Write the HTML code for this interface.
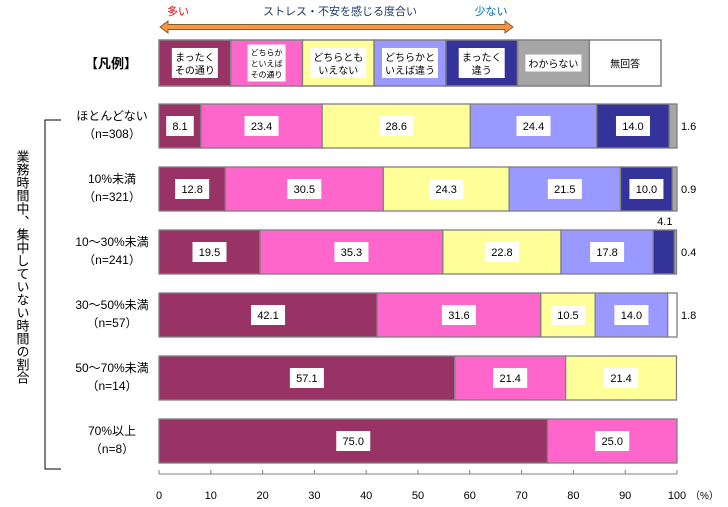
<!DOCTYPE html>
<html><head><meta charset="utf-8">
<style>
body{margin:0;background:#fff;}
svg{display:block;font-family:"Liberation Sans","Noto Sans CJK JP",sans-serif;}
</style></head>
<body>
<svg id="chart" width="728" height="507" viewBox="0 0 728 507" xmlns="http://www.w3.org/2000/svg">
  <g>
    <text x="178" y="15" font-size="11" fill="#ff0000" text-anchor="middle">多い</text>
    <text x="340" y="15" font-size="11" fill="#1f3864" text-anchor="middle">ストレス・不安を感じる度合い</text>
    <text x="491" y="15" font-size="11" fill="#0070c0" text-anchor="middle">少ない</text>
    <path d="M160,27 L168,21 L168,24.5 L505,24.5 L505,21 L513,27 L505,33 L505,29.5 L168,29.5 L168,33 Z" fill="#f79646" stroke="#8a5a2a" stroke-width="1"/>
    <text x="111" y="68" font-size="13" font-weight="bold" text-anchor="middle">【凡例】</text>
  </g>
  <g id="legend"></g>
  <g>
    <path d="M61,120 L45,120 L45,469 L61,469" fill="none" stroke="#000" stroke-width="1"/>
    <text font-size="13" writing-mode="tb" x="22" y="150" style="writing-mode:vertical-rl;text-orientation:upright;letter-spacing:0px">業務時間中、集中していない時間の割合</text>
  </g>
  <g id="bars"></g>
  <g id="axis"></g>
</svg>
<script>
const categories = ["ほとんどない","10%未満","10～30%未満","30～50%未満","50～70%未満","70%以上"];
const sampleSizes = ["（n=308）","（n=321）","（n=241）","（n=57）","（n=14）","（n=8）"];
const seriesNames = ["まったくその通り","どちらかといえばその通り","どちらともいえない","どちらかといえば違う","まったく違う","わからない","無回答"];
const s1 = [8.1, 12.8, 19.5, 42.1, 57.1, 75.0];
const s2 = [23.4, 30.5, 35.3, 31.6, 21.4, 25.0];
const s3 = [28.6, 24.3, 22.8, 10.5, 21.4, 0];
const s4 = [24.4, 21.5, 17.8, 14.0, 0, 0];
const s5 = [14.0, 10.0, 4.1, 0, 0, 0];
const s6 = [1.6, 0.9, 0.4, 0, 0, 0];
const s7 = [0, 0, 0, 1.8, 0, 0];
const xTicks = [0,10,20,30,40,50,60,70,80,90,100];

const NS = "http://www.w3.org/2000/svg";
const series = [s1,s2,s3,s4,s5,s6,s7];
const colors = ["#993366","#ff66cc","#ffff99","#9999ff","#333399","#a6a6a6","#ffffff"];
const X0 = 159, X1 = 677;
const xScale = v => X0 + (X1 - X0) * v / 100;
const rowTop = i => 104 + i * 63;
const BH = 44;
function mk(tag, attrs, parent){const e=document.createElementNS(NS,tag);for(const k in attrs)e.setAttribute(k,attrs[k]);parent.appendChild(e);return e;}

// legend
const lg = document.getElementById("legend");
const legendLines = [["まったく","その通り"],["どちらか","といえば","その通り"],["どちらとも","いえない"],["どちらかと","いえば違う"],["まったく","違う"],["わからない"],["無回答"]];
const LW = (661-159)/7;
for (let k=0;k<7;k++){
  const x = 159 + k*LW;
  const r = mk("rect",{x:x,y:40,width:LW,height:46,fill:colors[k],stroke:"#808080","stroke-width":1.5},lg);
  
  
  const lines = legendLines[k];
  const fs = lines.length===3 ? 8 : 10;
  const maxLen = Math.max(...lines.map(l=>l.length));
  const bw = maxLen*fs+6, bh = lines.length*(fs+3)+4;
  if (k<6){
    const b = mk("rect",{x:x+LW/2-bw/2,y:63-bh/2,width:bw,height:bh,fill:"#fff"},lg);
    
    
  }
  lines.forEach((l,j)=>{
    const t = mk("text",{x:x+LW/2,y:63-bh/2+2+(j+1)*(fs+3)-2,"font-size":fs,"text-anchor":"middle",fill:"#000"},lg);
    t.textContent = l;
    
    
  });
}

// bars
const bg = document.getElementById("bars");
categories.forEach((c,i)=>{
  const y = rowTop(i);
  const t1 = mk("text",{x:112,y:y+16,"font-size":12,"text-anchor":"middle"},bg);
  t1.textContent = c;
  
  
  const t2 = mk("text",{x:112,y:y+34,"font-size":12,"text-anchor":"middle"},bg);
  t2.textContent = sampleSizes[i];
  
  
  let acc = 0;
  series.forEach((s,k)=>{
    const v = s[i];
    if (!v) return;
    const xa = xScale(acc), xb = xScale(Math.min(acc+v,100));
    const r = mk("rect",{x:xa,y:y,width:Math.max(xb-xa,0.5),height:BH,fill:colors[k],stroke:"#808080","stroke-width":1.3},bg);
    
    
    const label = v.toFixed(1);
    const w = xb - xa;
    if (w > 30){
      const bw = label.length*6.5+8;
      const b = mk("rect",{x:(xa+xb)/2-bw/2,y:y+BH/2-10,width:bw,height:20,fill:"#fff"},bg);
      
      
      const t = mk("text",{x:(xa+xb)/2,y:y+BH/2+4,"font-size":11,"text-anchor":"middle"},bg);
      t.textContent = label;
      
      
    } else if (k===4) {
      const t = mk("text",{x:(xa+xb)/2+1,y:y-5,"font-size":11,"text-anchor":"middle"},bg);
      t.textContent = label;
      
      
    } else {
      const t = mk("text",{x:X1+4,y:y+BH/2+4,"font-size":11,"text-anchor":"start"},bg);
      t.textContent = label;
      
      
    }
    acc += v;
  });
});

// axis
const ax = document.getElementById("axis");
const al = mk("line",{x1:X0,y1:474,x2:X1,y2:474,stroke:"#808080","stroke-width":1},ax);


xTicks.forEach(v=>{
  const x = xScale(v);
  const tk = mk("line",{x1:x,y1:470,x2:x,y2:474,stroke:"#808080","stroke-width":1},ax);
  
  
  const t = mk("text",{x:x,y:499,"font-size":11,"text-anchor":"middle"},ax);
  t.textContent = v;
  
  
});
const pu = mk("text",{x:X1+13,y:499,"font-size":10},ax);
pu.textContent = "（%）";


</script>
</body></html>
